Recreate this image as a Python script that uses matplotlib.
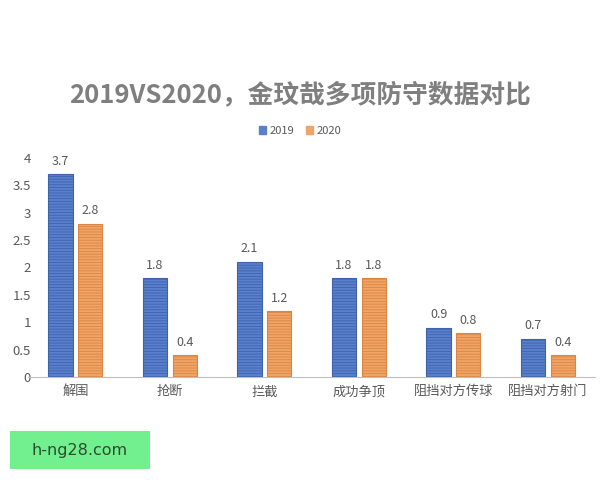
import numpy as np
import matplotlib
matplotlib.use("Agg")
import matplotlib.pyplot as plt
from matplotlib.patches import Rectangle

plt.rcParams['font.family'] = ['Noto Sans CJK SC', 'DejaVu Sans']
plt.rcParams['hatch.linewidth'] = 0.6

categories = ['解围', '抢断', '拦截', '成功争顶', '阻挡对方传球', '阻挡对方射门']
vals_2019 = [3.7, 1.8, 2.1, 1.8, 0.9, 0.7]
vals_2020 = [2.8, 0.4, 1.2, 1.8, 0.8, 0.4]
yticks = [0, 0.5, 1, 1.5, 2, 2.5, 3, 3.5, 4]

blue = '#5A80CC'
blue_dark = '#3E62AE'
orange = '#F0A466'
orange_dark = '#DB8544'
txt = '#595959'

fig = plt.figure(figsize=(6, 4.8), dpi=100)
ax = fig.add_axes([0.047, 0.2146, 0.945, 0.4563])

x = np.arange(len(categories))
w = 0.255
b1 = ax.bar(x - 0.158, vals_2019, w, color=blue, edgecolor=blue_dark,
            hatch='------', linewidth=0.8, label='2019')
b2 = ax.bar(x + 0.158, vals_2020, w, color=orange, edgecolor=orange_dark,
            hatch='------', linewidth=0.8, label='2020')

for bars in (b1, b2):
    for r in bars:
        ax.text(r.get_x() + r.get_width() / 2, r.get_height() + 0.12,
                f'{r.get_height():g}', ha='center', va='bottom',
                fontsize=9, color=txt)

ax.set_xlim(-0.5, len(categories) - 0.5)
ax.set_ylim(0, 4)
ax.set_yticks(yticks)
ax.set_yticklabels([f'{t:g}' for t in yticks])
ax.set_xticks(x)
ax.set_xticklabels(categories)
ax.tick_params(axis='both', length=0, colors=txt, labelsize=9.5)
ax.tick_params(axis='y', pad=-2)
ax.tick_params(axis='x', pad=6)
for s in ['top', 'right', 'left']:
    ax.spines[s].set_visible(False)
ax.spines['bottom'].set_color('#BFBFBF')

fig.text(0.5, 0.802, '2019VS2020，金玟哉多项防守数据对比', ha='center', va='center',
         fontsize=18.5, fontweight='bold', color='#7F7F7F')

leg = fig.legend(handles=[Rectangle((0, 0), 1, 1, color=blue),
                          Rectangle((0, 0), 1, 1, color=orange)],
                 labels=['2019', '2020'], loc='center', bbox_to_anchor=(0.5, 0.727),
                 ncol=2, frameon=False, fontsize=8, handlelength=0.7,
                 handleheight=0.7, handletextpad=0.3, columnspacing=1.0)
for t in leg.get_texts():
    t.set_color(txt)

fig.patches.append(Rectangle((0.017, 0.023), 0.233, 0.079, transform=fig.transFigure,
                             facecolor='#72F08F', edgecolor='none'))
fig.text(0.133, 0.0625, 'h-ng28.com', ha='center', va='center', fontsize=11.5,
         color='#2F4A2F', family=['DejaVu Sans'])

fig.savefig('out.png', dpi=100)
